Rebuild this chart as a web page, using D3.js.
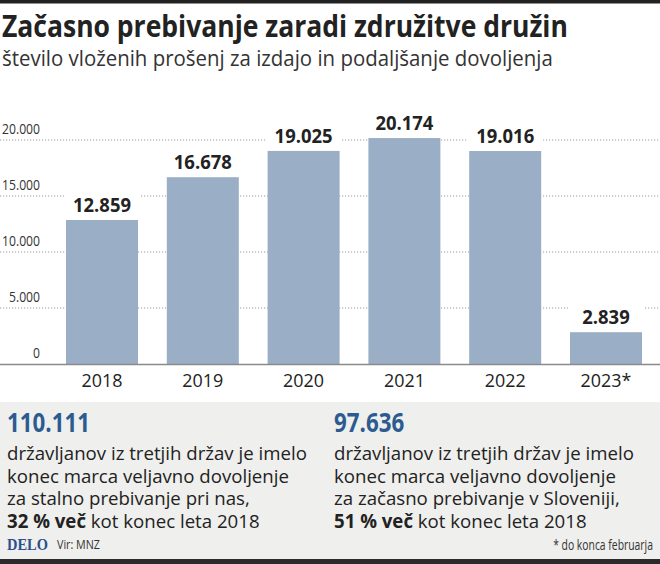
<!DOCTYPE html>
<html>
<head>
<meta charset="utf-8">
<script src="https://cdn.jsdelivr.net/npm/d3@7"></script>
<style>
  html, body { margin: 0; padding: 0; background: #fff; }
  svg { display: block; }
  text { font-family: "Open Sans", "Noto Sans", sans-serif; }
</style>
</head>
<body>
<svg id="chart" width="660" height="564"></svg>
<script>
// ---- data ----
const years = ["2018", "2019", "2020", "2021", "2022", "2023*"];
const values = [12859, 16678, 19025, 20174, 19016, 2839];
const yTicks = [0, 5000, 10000, 15000, 20000];
const title = "Začasno prebivanje zaradi združitve družin";
const subtitle = "število vloženih prošenj za izdajo in podaljšanje dovoljenja";
const leftNumber = 110111;
const leftLines = ["državljanov iz tretjih držav je imelo", "konec marca veljavno dovoljenje", "za stalno prebivanje pri nas,"];
const leftLast = ["32 % več", " kot konec leta 2018"];
const rightNumber = 97636;
const rightLines = ["državljanov iz tretjih držav je imelo", "konec marca veljavno dovoljenje", "za začasno prebivanje v Sloveniji,"];
const rightLast = ["51 % več", " kot konec leta 2018"];
const brand = "DELO";
const source = "Vir: MNZ";
const footnote = "* do konca februarja";

// ---- setup ----
const W = 660, H = 564;
const svg = d3.select("#chart");
const loc = d3.formatLocale({ decimal: ",", thousands: ".", grouping: [3], currency: ["", " €"] });
const fmt = loc.format(",d");

const x = d3.scaleBand().domain(years).range([51.6, 656.4]).paddingInner(0.2857).paddingOuter(0.143);
const y = d3.scaleLinear().domain([0, 20000]).range([364, 140]);

// helper: text in a group so that it can be condensed horizontally
function addText(parent, tx, ty, str, attrs) {
  const g = parent.append("g").attr("transform", `translate(${tx},${ty})`);
  const t = g.append("text").text(str);
  Object.entries(attrs || {}).forEach(([k, v]) => t.style(k, v));
  return { g, t, tx, ty };
}
function condense(items, k) {
  items.forEach(it => it.g.attr("transform", `translate(${it.tx},${it.ty}) scale(${k},1)`));
}
function kFor(item, target) {
  return target / item.t.node().getComputedTextLength();
}

// ---- frame ----
svg.append("rect").attr("x", 0).attr("y", 0).attr("width", W).attr("height", 3.5).attr("fill", "#222");

// title + subtitle
const tTitle = addText(svg, 2, 37, title, { "font-size": "30px", "font-weight": "700", fill: "#222" });
condense([tTitle], kFor(tTitle, 566));
const tSub = addText(svg, 2, 66, subtitle, { "font-size": "21px", "font-weight": "400", fill: "#333" });
condense([tSub], kFor(tSub, 551));

// ---- gridlines ----
const grid = svg.append("g");
grid.selectAll("line").data(yTicks.filter(d => d > 0)).join("line")
  .attr("x1", 0).attr("x2", W)
  .attr("y1", d => y(d)).attr("y2", d => y(d))
  .attr("stroke", "#9a9a9a").attr("stroke-width", 1)
  .attr("stroke-dasharray", "1.2,1.8");

// tick labels
const tickItems = yTicks.map(d => addText(svg, 40, y(d) - 6.5, d === 0 ? "0" : fmt(d),
  { "font-size": "14.5px", fill: "#333", "text-anchor": "end" }));
condense(tickItems, kFor(tickItems[4], 38));

// white backgrounds behind value labels (gaps in gridlines)
svg.append("g").selectAll("rect").data(years).join("rect")
  .attr("x", d => x(d) - 2).attr("width", x.bandwidth() + 4)
  .attr("y", (d, i) => y(values[i]) - 29).attr("height", 29)
  .attr("fill", "#fff");

// bars
svg.append("g").selectAll("rect").data(years).join("rect")
  .attr("x", d => x(d)).attr("width", x.bandwidth())
  .attr("y", (d, i) => y(values[i])).attr("height", (d, i) => y(0) - y(values[i]))
  .attr("fill", "#9aaec6");

// baseline
svg.append("line").attr("x1", 0).attr("x2", W).attr("y1", y(0) + 0.5).attr("y2", y(0) + 0.5)
  .attr("stroke", "#8a8a8a").attr("stroke-width", 1.5);

// value labels
const valItems = years.map((d, i) => addText(svg, x(d) + x.bandwidth() / 2, y(values[i]) - 8, fmt(values[i]),
  { "font-size": "19px", "font-weight": "700", fill: "#222", "text-anchor": "middle" }));
condense(valItems, kFor(valItems[1], 58));

// year labels
const yearItems = years.map(d => addText(svg, x(d) + x.bandwidth() / 2, 387, d,
  { "font-size": "18px", fill: "#222", "text-anchor": "middle" }));
condense(yearItems, kFor(yearItems[0], 41));

// ---- info panel ----
svg.append("rect").attr("x", 0).attr("y", 402).attr("width", W).attr("height", 158).attr("fill", "#efefed");
svg.append("rect").attr("x", 0).attr("y", 559).attr("width", W).attr("height", 5).attr("fill", "#2a2a2a");

function panel(x0, num, lines, last) {
  const n = addText(svg, x0, 432, fmt(num), { "font-size": "27px", "font-weight": "700", fill: "#2b5b91" });
  const body = lines.map((l, i) => addText(svg, x0, 460 + i * 22.5, l, { "font-size": "19px", fill: "#222" }));
  const lastItem = addText(svg, x0, 460 + lines.length * 22.5, "", { "font-size": "19px", fill: "#222" });
  lastItem.t.append("tspan").style("font-weight", "700").text(last[0]);
  lastItem.t.append("tspan").text(last[1]);
  return { n, body: body.concat([lastItem]) };
}
const pl = panel(7, leftNumber, leftLines, leftLast);
const pr = panel(334, rightNumber, rightLines, rightLast);
const kBody = kFor(pl.body[0], 300);
condense(pl.body.concat(pr.body), kBody);
const kNum = kFor(pl.n, 83);
condense([pl.n, pr.n], kNum);

// footer
const tBrand = addText(svg, 7, 550, brand, { "font-family": "'Liberation Serif', 'DejaVu Serif', serif", "font-size": "17px", "font-weight": "700", fill: "#2d4f8c" });
condense([tBrand], kFor(tBrand, 41));
const tSrc = addText(svg, 57, 549, source, { "font-size": "12.5px", fill: "#333" });
condense([tSrc], kFor(tSrc, 43));
const tFoot = addText(svg, 653, 550, footnote, { "font-size": "14px", fill: "#333", "text-anchor": "end" });
condense([tFoot], kFor(tFoot, 100));
</script>
</body>
</html>
